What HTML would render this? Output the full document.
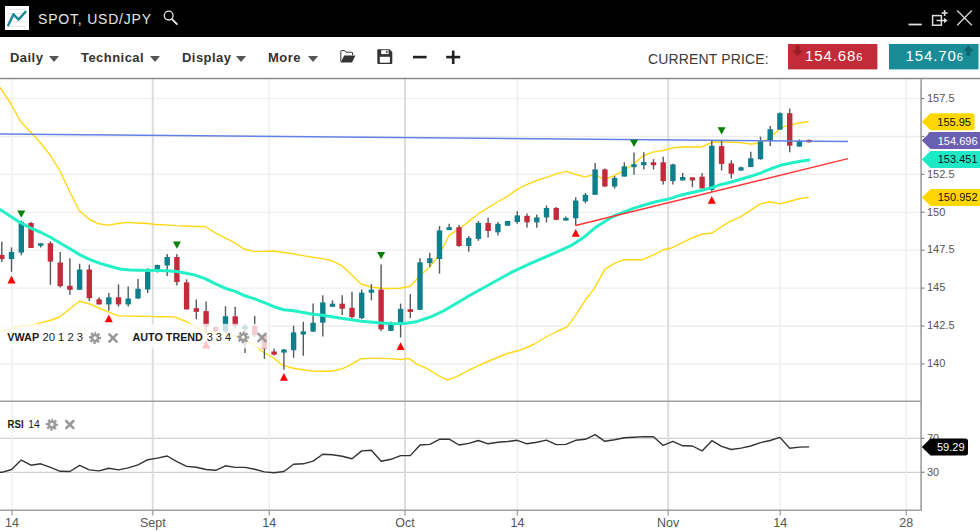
<!DOCTYPE html>
<html><head><meta charset="utf-8">
<style>
*{margin:0;padding:0;box-sizing:border-box}
html,body{width:980px;height:532px;overflow:hidden;background:#fff}
body{position:relative;font-family:"Liberation Sans",Arial,sans-serif}
#tb{position:absolute;left:0;top:0;width:980px;height:37px;background:#000}
.ttl{position:absolute;left:38px;top:11px;font-size:14px;line-height:16px;color:#e6e6e6;letter-spacing:0.8px;white-space:nowrap}
.mi{position:absolute;top:48.5px;font-size:13px;line-height:18px;font-weight:bold;color:#333;letter-spacing:0.45px;white-space:nowrap}
.ar{position:absolute;top:55.5px;width:0;height:0;border-left:5.5px solid transparent;border-right:5.5px solid transparent;border-top:6px solid #555}
.cp{position:absolute;left:648px;top:50px;font-size:14px;line-height:18px;color:#3a3a3a;letter-spacing:0.15px;white-space:nowrap}
.pb{position:absolute;top:42.5px;height:25px;color:#fff;font-size:15px;line-height:25px;letter-spacing:0.9px;white-space:nowrap}
.pb span{font-size:11px}
svg{position:absolute;left:0;top:0}
.yl{font-family:"Liberation Sans",Arial,sans-serif;font-size:11px;fill:#555}
.xl{font-family:"Liberation Sans",Arial,sans-serif;font-size:12.5px;fill:#555}
.tg{font-family:"Liberation Sans",Arial,sans-serif;font-size:11px}
.lg{font-family:"Liberation Sans",Arial,sans-serif;font-size:10.8px;fill:#1a1a1a}
</style></head><body>
<div id="tb">
  <svg width="980" height="37" style="position:absolute;left:0;top:0">
    <rect x="5" y="6" width="24" height="24" fill="#fff"/>
    <g stroke="#e2e2e2" stroke-width="0.9">
      <line x1="7.5" y1="9.4" x2="26" y2="9.4"/><line x1="7.5" y1="13.3" x2="26" y2="13.3"/>
      <line x1="7.5" y1="17.4" x2="26" y2="17.4"/><line x1="7.5" y1="21.8" x2="26" y2="21.8"/>
      <line x1="7.5" y1="26.3" x2="26" y2="26.3"/>
    </g>
    <polyline points="8.2,25.2 13.5,14.3 18.5,19.6 25.5,11.8" fill="none" stroke="#17879a" stroke-width="2.4" stroke-linecap="round" stroke-linejoin="round"/>
    <circle cx="168.7" cy="15.6" r="4.4" fill="none" stroke="#e6e6e6" stroke-width="1.3"/>
    <line x1="171.9" y1="19.2" x2="176.8" y2="24" stroke="#e6e6e6" stroke-width="1.8" stroke-linecap="round"/>
    <line x1="908.5" y1="24.5" x2="921.8" y2="24.5" stroke="#dedede" stroke-width="1.8"/>
    <rect x="932.6" y="15.6" width="8.8" height="9.6" fill="none" stroke="#dedede" stroke-width="1.5"/>
    <line x1="936.5" y1="20.5" x2="945" y2="20.5" stroke="#dedede" stroke-width="1.5"/>
    <polygon points="944,17.8 947.6,20.5 944,23.2" fill="#dedede"/>
    <line x1="944.6" y1="10" x2="944.6" y2="16" stroke="#dedede" stroke-width="1.6"/>
    <line x1="941.6" y1="13" x2="947.6" y2="13" stroke="#dedede" stroke-width="1.6"/>
    <line x1="957.2" y1="10.6" x2="971.8" y2="25.2" stroke="#d0d0d0" stroke-width="1.4"/>
    <line x1="971.8" y1="10.6" x2="957.2" y2="25.2" stroke="#d0d0d0" stroke-width="1.4"/>
  </svg>
  <div class="ttl">SPOT, USD/JPY</div>
</div>
<div class="mi" style="left:10px">Daily</div><div class="ar" style="left:49px"></div>
<div class="mi" style="left:81px">Technical</div><div class="ar" style="left:149.5px"></div>
<div class="mi" style="left:182px">Display</div><div class="ar" style="left:235.5px"></div>
<div class="mi" style="left:268px">More</div><div class="ar" style="left:307.5px"></div>
<svg width="980" height="80" style="position:absolute;left:0;top:0">
  <!-- folder -->
  <path d="M340.8,61.5 L340.8,51.5 Q340.8,50.6 341.7,50.6 L344.6,50.6 L346,52.2 L351.8,52.2 Q352.6,52.2 352.6,53 L352.6,55" fill="none" stroke="#333" stroke-width="1"/>
  <path d="M340.6,62.6 L344.2,55.4 L355.4,55.4 L352,62.6 Z" fill="#333"/>
  <!-- save -->
  <path d="M377.3,50.3 Q377.3,49.2 378.4,49.2 L389.6,49.2 L392.3,51.9 L392.3,63 Q392.3,64.1 391.2,64.1 L378.4,64.1 Q377.3,64.1 377.3,63 Z" fill="#333"/>
  <rect x="381.2" y="50.2" width="7.4" height="3.9" fill="#fff"/>
  <rect x="386.2" y="50.8" width="1.3" height="2.4" fill="#333"/>
  <rect x="379.8" y="56.8" width="10.1" height="5.9" fill="#fff"/>
  <!-- minus plus -->
  <rect x="413" y="55.8" width="13.6" height="2.6" fill="#222"/>
  <rect x="446.2" y="55.8" width="14" height="2.6" fill="#222"/>
  <rect x="451.9" y="50.6" width="2.6" height="13.4" fill="#222"/>
  <!-- price boxes -->
  <rect x="788" y="44" width="89.4" height="25.4" fill="#c42b39"/>
  <rect x="889" y="44" width="89.5" height="25.4" fill="#198c97"/>
  <path d="M795.6,45.6 h4 v5 h3.4 l-5.4,5.3 l-5.4,-5.3 h3.4 z" fill="#9a1a26"/>
  <path d="M968.4,45.5 l5.3,5.3 h-3.3 v5 h-4 v-5 h-3.3 z" fill="#0c666d"/>
</svg>
<div class="cp">CURRENT PRICE:</div>
<div class="pb" style="left:805px">154.68<span>6</span></div>
<div class="pb" style="left:905.5px">154.70<span>6</span></div>
<svg width="980" height="532">
<defs>
<g id="gear"><circle r="5.0" fill="none" stroke="#999" stroke-width="2.1" stroke-dasharray="2.3 1.627" stroke-dashoffset="1.15" transform="rotate(-90)"/><circle r="3.05" fill="none" stroke="#999" stroke-width="2.6"/></g>
<g id="xx" stroke="#999" stroke-width="2.6" stroke-linecap="round"><line x1="-3.6" y1="-3.6" x2="3.6" y2="3.6"/><line x1="-3.6" y1="3.6" x2="3.6" y2="-3.6"/></g>
</defs>
<line x1="0" y1="98.6" x2="921" y2="98.6" stroke="#eeeeee" stroke-width="1.3"/>
<line x1="0" y1="136.5" x2="921" y2="136.5" stroke="#eeeeee" stroke-width="1.3"/>
<line x1="0" y1="174.4" x2="921" y2="174.4" stroke="#eeeeee" stroke-width="1.3"/>
<line x1="0" y1="212.3" x2="921" y2="212.3" stroke="#eeeeee" stroke-width="1.3"/>
<line x1="0" y1="250.2" x2="921" y2="250.2" stroke="#eeeeee" stroke-width="1.3"/>
<line x1="0" y1="288.1" x2="921" y2="288.1" stroke="#eeeeee" stroke-width="1.3"/>
<line x1="0" y1="326.0" x2="921" y2="326.0" stroke="#eeeeee" stroke-width="1.3"/>
<line x1="0" y1="363.9" x2="921" y2="363.9" stroke="#eeeeee" stroke-width="1.3"/>
<line x1="0" y1="438.3" x2="921" y2="438.3" stroke="#cfcfcf" stroke-width="1.3"/>
<line x1="0" y1="472.3" x2="921" y2="472.3" stroke="#cfcfcf" stroke-width="1.3"/>
<line x1="12" y1="79" x2="12" y2="510" stroke="#efefef" stroke-width="1.5"/>
<line x1="152.8" y1="79" x2="152.8" y2="510" stroke="#dddddd" stroke-width="2"/>
<line x1="269.2" y1="79" x2="269.2" y2="510" stroke="#efefef" stroke-width="1.5"/>
<line x1="405" y1="79" x2="405" y2="510" stroke="#dddddd" stroke-width="2"/>
<line x1="517.4" y1="79" x2="517.4" y2="510" stroke="#efefef" stroke-width="1.5"/>
<line x1="668.2" y1="79" x2="668.2" y2="510" stroke="#dddddd" stroke-width="2"/>
<line x1="780.2" y1="79" x2="780.2" y2="510" stroke="#efefef" stroke-width="1.5"/>
<line x1="906.2" y1="79" x2="906.2" y2="510" stroke="#efefef" stroke-width="1.5"/>
<polyline points="0.0,87.2 11.0,104.0 20.6,121.5 30.5,132.0 40.2,142.5 50.0,155.0 59.7,170.5 69.4,191.0 79.1,210.5 88.9,219.0 98.6,223.8 108.0,225.1 118.0,223.5 127.5,222.4 137.5,223.0 147.0,223.5 156.0,224.5 166.0,224.9 176.0,225.6 185.0,226.0 195.0,226.5 205.0,226.5 215.0,232.7 225.0,237.8 235.0,242.9 244.0,249.0 254.0,251.6 263.5,251.4 273.0,251.0 283.0,252.3 293.0,253.8 302.9,255.6 312.6,257.2 322.4,258.6 332.0,260.8 341.8,265.6 351.5,274.8 361.0,284.0 371.0,287.0 380.7,288.3 390.5,288.5 400.2,288.2 410.3,286.2 420.0,275.7 429.8,266.8 439.5,254.3 449.2,235.3 459.0,228.8 468.7,221.6 478.0,214.0 487.8,207.8 497.5,202.0 507.3,196.3 517.6,189.2 527.8,184.1 538.0,180.0 548.2,176.9 556.3,173.9 566.5,171.4 575.7,174.5 584.9,176.9 595.1,174.5 604.3,179.6 613.5,175.9 623.7,170.8 633.9,163.7 642.4,156.2 652.7,152.1 662.9,150.5 673.1,147.7 683.3,147.0 692.1,147.0 701.6,147.0 711.8,142.3 722.0,141.9 731.0,142.2 740.4,142.6 750.6,144.0 760.8,143.0 771.0,136.8 781.2,127.7 791.4,124.6 799.5,123.0 808.8,121.5" fill="none" stroke="#ffd814" stroke-width="1.4" stroke-linejoin="round"/>
<polyline points="0.0,331.4 11.0,328.5 20.6,326.1 30.5,325.5 40.2,322.9 50.0,320.5 59.7,317.0 69.4,309.2 79.2,301.2 88.9,303.7 98.6,308.0 108.2,311.8 118.4,315.9 127.8,316.1 137.5,316.2 147.2,316.4 157.0,316.6 166.7,316.7 174.5,316.9 186.1,321.5 195.9,327.0 206.5,332.2 215.3,333.5 225.0,334.8 234.8,336.2 244.5,339.0 253.5,344.5 263.0,352.0 273.7,358.0 282.0,364.9 292.2,368.0 302.9,369.8 312.7,371.0 322.4,371.3 332.1,371.3 343.3,368.4 351.4,364.3 360.6,358.8 371.0,358.4 380.7,358.4 390.5,358.6 400.9,359.5 409.0,358.4 417.2,364.4 426.8,368.5 439.0,375.9 447.7,380.2 458.1,375.9 468.3,370.5 478.0,365.9 487.8,361.5 497.5,357.5 507.1,353.5 518.0,350.8 526.7,347.5 534.4,344.0 546.1,337.0 555.9,332.0 567.1,326.8 576.1,314.7 585.1,300.3 594.1,288.9 604.7,269.6 613.7,263.6 624.2,259.7 633.7,259.6 642.3,259.7 654.3,254.6 663.3,249.8 672.3,247.7 684.4,241.7 692.1,238.0 702.4,234.0 711.4,233.3 720.4,227.3 730.5,221.2 740.7,216.9 750.8,210.2 760.2,203.9 769.5,201.7 779.7,203.9 789.8,201.2 799.2,198.8 808.8,197.3" fill="none" stroke="#ffd814" stroke-width="1.4" stroke-linejoin="round"/>
<line x1="1.8" y1="241.8" x2="1.8" y2="262.0" stroke="#545a5f" stroke-width="1.4"/>
<rect x="-0.9" y="254.9" width="5.4" height="4.2" fill="#c32a3a"/>
<line x1="11.5" y1="247.4" x2="11.5" y2="271.8" stroke="#545a5f" stroke-width="1.4"/>
<rect x="8.8" y="251.9" width="5.4" height="7.2" fill="#0f7f8b"/>
<line x1="21.3" y1="220.8" x2="21.3" y2="255.3" stroke="#545a5f" stroke-width="1.4"/>
<rect x="18.6" y="221.9" width="5.4" height="30.7" fill="#0f7f8b"/>
<line x1="31.0" y1="221.9" x2="31.0" y2="248.0" stroke="#545a5f" stroke-width="1.4"/>
<rect x="28.3" y="223.0" width="5.4" height="25.0" fill="#c32a3a"/>
<line x1="40.7" y1="243.3" x2="40.7" y2="247.4" stroke="#545a5f" stroke-width="1.4"/>
<rect x="38.0" y="243.3" width="5.4" height="2.5" fill="#0f7f8b"/>
<line x1="50.4" y1="241.3" x2="50.4" y2="284.7" stroke="#545a5f" stroke-width="1.4"/>
<rect x="47.7" y="243.3" width="5.4" height="18.3" fill="#c32a3a"/>
<line x1="60.2" y1="251.9" x2="60.2" y2="287.6" stroke="#545a5f" stroke-width="1.4"/>
<rect x="57.5" y="262.5" width="5.4" height="23.7" fill="#c32a3a"/>
<line x1="69.9" y1="258.2" x2="69.9" y2="294.8" stroke="#545a5f" stroke-width="1.4"/>
<rect x="67.2" y="285.8" width="5.4" height="4.0" fill="#c32a3a"/>
<line x1="79.6" y1="263.7" x2="79.6" y2="289.8" stroke="#545a5f" stroke-width="1.4"/>
<rect x="76.9" y="269.5" width="5.4" height="20.3" fill="#0f7f8b"/>
<line x1="89.3" y1="264.8" x2="89.3" y2="301.1" stroke="#545a5f" stroke-width="1.4"/>
<rect x="86.6" y="269.5" width="5.4" height="28.7" fill="#c32a3a"/>
<line x1="99.1" y1="297.3" x2="99.1" y2="304.4" stroke="#545a5f" stroke-width="1.4"/>
<rect x="96.4" y="299.3" width="5.4" height="5.1" fill="#c32a3a"/>
<line x1="108.8" y1="293.0" x2="108.8" y2="310.8" stroke="#545a5f" stroke-width="1.4"/>
<rect x="106.1" y="297.3" width="5.4" height="7.1" fill="#0f7f8b"/>
<line x1="118.5" y1="284.4" x2="118.5" y2="306.6" stroke="#545a5f" stroke-width="1.4"/>
<rect x="115.8" y="297.3" width="5.4" height="7.1" fill="#c32a3a"/>
<line x1="128.2" y1="286.6" x2="128.2" y2="306.6" stroke="#545a5f" stroke-width="1.4"/>
<rect x="125.5" y="298.5" width="5.4" height="5.9" fill="#0f7f8b"/>
<line x1="138.0" y1="279.0" x2="138.0" y2="299.0" stroke="#545a5f" stroke-width="1.4"/>
<rect x="135.3" y="288.8" width="5.4" height="9.7" fill="#0f7f8b"/>
<line x1="147.7" y1="268.3" x2="147.7" y2="292.9" stroke="#545a5f" stroke-width="1.4"/>
<rect x="145.0" y="271.9" width="5.4" height="17.6" fill="#0f7f8b"/>
<line x1="157.4" y1="264.6" x2="157.4" y2="272.6" stroke="#545a5f" stroke-width="1.4"/>
<rect x="154.7" y="265.0" width="5.4" height="4.3" fill="#0f7f8b"/>
<line x1="167.2" y1="254.0" x2="167.2" y2="276.0" stroke="#545a5f" stroke-width="1.4"/>
<rect x="164.5" y="257.0" width="5.4" height="8.5" fill="#0f7f8b"/>
<line x1="176.9" y1="254.0" x2="176.9" y2="285.4" stroke="#545a5f" stroke-width="1.4"/>
<rect x="174.2" y="257.0" width="5.4" height="25.0" fill="#c32a3a"/>
<line x1="186.6" y1="279.3" x2="186.6" y2="309.4" stroke="#545a5f" stroke-width="1.4"/>
<rect x="183.9" y="282.4" width="5.4" height="27.0" fill="#c32a3a"/>
<line x1="196.3" y1="299.6" x2="196.3" y2="319.3" stroke="#545a5f" stroke-width="1.4"/>
<rect x="193.6" y="308.2" width="5.4" height="3.6" fill="#c32a3a"/>
<line x1="206.1" y1="301.6" x2="206.1" y2="331.8" stroke="#545a5f" stroke-width="1.4"/>
<rect x="203.4" y="311.1" width="5.4" height="15.5" fill="#c32a3a"/>
<line x1="215.8" y1="326.0" x2="215.8" y2="332.0" stroke="#545a5f" stroke-width="1.4"/>
<rect x="213.1" y="327.2" width="5.4" height="4.0" fill="#c32a3a"/>
<line x1="225.5" y1="306.2" x2="225.5" y2="333.0" stroke="#545a5f" stroke-width="1.4"/>
<rect x="222.8" y="316.3" width="5.4" height="14.9" fill="#0f7f8b"/>
<line x1="235.2" y1="306.8" x2="235.2" y2="328.6" stroke="#545a5f" stroke-width="1.4"/>
<rect x="232.5" y="316.3" width="5.4" height="9.7" fill="#c32a3a"/>
<line x1="245.0" y1="324.0" x2="245.0" y2="352.9" stroke="#545a5f" stroke-width="1.4"/>
<rect x="242.3" y="325.9" width="5.4" height="3.1" fill="#0f7f8b"/>
<line x1="254.7" y1="316.0" x2="254.7" y2="337.1" stroke="#545a5f" stroke-width="1.4"/>
<rect x="252.0" y="325.9" width="5.4" height="9.2" fill="#c32a3a"/>
<line x1="264.4" y1="333.2" x2="264.4" y2="358.8" stroke="#545a5f" stroke-width="1.4"/>
<rect x="261.7" y="335.1" width="5.4" height="13.8" fill="#c32a3a"/>
<line x1="274.1" y1="348.5" x2="274.1" y2="355.6" stroke="#545a5f" stroke-width="1.4"/>
<rect x="271.4" y="351.5" width="5.4" height="3.2" fill="#c32a3a"/>
<line x1="283.9" y1="349.1" x2="283.9" y2="369.8" stroke="#545a5f" stroke-width="1.4"/>
<rect x="281.2" y="349.5" width="5.4" height="3.1" fill="#0f7f8b"/>
<line x1="293.6" y1="325.8" x2="293.6" y2="357.8" stroke="#545a5f" stroke-width="1.4"/>
<rect x="290.9" y="332.4" width="5.4" height="17.8" fill="#0f7f8b"/>
<line x1="303.3" y1="321.7" x2="303.3" y2="355.7" stroke="#545a5f" stroke-width="1.4"/>
<rect x="300.6" y="331.4" width="5.4" height="3.1" fill="#0f7f8b"/>
<line x1="313.1" y1="303.5" x2="313.1" y2="332.0" stroke="#545a5f" stroke-width="1.4"/>
<rect x="310.4" y="322.7" width="5.4" height="8.9" fill="#0f7f8b"/>
<line x1="322.8" y1="295.2" x2="322.8" y2="336.5" stroke="#545a5f" stroke-width="1.4"/>
<rect x="320.1" y="302.4" width="5.4" height="20.3" fill="#0f7f8b"/>
<line x1="332.5" y1="300.4" x2="332.5" y2="306.8" stroke="#545a5f" stroke-width="1.4"/>
<rect x="329.8" y="303.7" width="5.4" height="3.1" fill="#0f7f8b"/>
<line x1="342.2" y1="295.2" x2="342.2" y2="315.0" stroke="#545a5f" stroke-width="1.4"/>
<rect x="339.5" y="303.7" width="5.4" height="5.1" fill="#c32a3a"/>
<line x1="352.0" y1="291.7" x2="352.0" y2="318.6" stroke="#545a5f" stroke-width="1.4"/>
<rect x="349.3" y="307.8" width="5.4" height="9.3" fill="#c32a3a"/>
<line x1="361.7" y1="289.6" x2="361.7" y2="319.0" stroke="#545a5f" stroke-width="1.4"/>
<rect x="359.0" y="292.7" width="5.4" height="25.4" fill="#0f7f8b"/>
<line x1="371.4" y1="284.0" x2="371.4" y2="300.3" stroke="#545a5f" stroke-width="1.4"/>
<rect x="368.7" y="289.6" width="5.4" height="3.1" fill="#0f7f8b"/>
<line x1="381.1" y1="264.4" x2="381.1" y2="330.9" stroke="#545a5f" stroke-width="1.4"/>
<rect x="378.4" y="289.6" width="5.4" height="39.7" fill="#c32a3a"/>
<line x1="390.9" y1="321.6" x2="390.9" y2="330.9" stroke="#545a5f" stroke-width="1.4"/>
<rect x="388.2" y="323.7" width="5.4" height="7.2" fill="#0f7f8b"/>
<line x1="400.6" y1="303.6" x2="400.6" y2="337.5" stroke="#545a5f" stroke-width="1.4"/>
<rect x="397.9" y="308.8" width="5.4" height="13.4" fill="#0f7f8b"/>
<line x1="410.3" y1="294.1" x2="410.3" y2="318.1" stroke="#545a5f" stroke-width="1.4"/>
<rect x="407.6" y="309.2" width="5.4" height="2.7" fill="#c32a3a"/>
<line x1="420.0" y1="258.2" x2="420.0" y2="309.8" stroke="#545a5f" stroke-width="1.4"/>
<rect x="417.3" y="262.3" width="5.4" height="47.5" fill="#0f7f8b"/>
<line x1="429.8" y1="252.8" x2="429.8" y2="266.9" stroke="#545a5f" stroke-width="1.4"/>
<rect x="427.1" y="258.2" width="5.4" height="4.9" fill="#0f7f8b"/>
<line x1="439.5" y1="226.1" x2="439.5" y2="273.6" stroke="#545a5f" stroke-width="1.4"/>
<rect x="436.8" y="230.4" width="5.4" height="28.6" fill="#0f7f8b"/>
<line x1="449.2" y1="223.8" x2="449.2" y2="230.0" stroke="#545a5f" stroke-width="1.4"/>
<rect x="446.5" y="227.2" width="5.4" height="2.8" fill="#0f7f8b"/>
<line x1="459.0" y1="224.8" x2="459.0" y2="246.8" stroke="#545a5f" stroke-width="1.4"/>
<rect x="456.3" y="227.2" width="5.4" height="18.8" fill="#c32a3a"/>
<line x1="468.7" y1="236.0" x2="468.7" y2="251.7" stroke="#545a5f" stroke-width="1.4"/>
<rect x="466.0" y="237.9" width="5.4" height="8.1" fill="#0f7f8b"/>
<line x1="478.4" y1="221.0" x2="478.4" y2="240.8" stroke="#545a5f" stroke-width="1.4"/>
<rect x="475.7" y="222.9" width="5.4" height="16.0" fill="#0f7f8b"/>
<line x1="488.1" y1="217.8" x2="488.1" y2="237.4" stroke="#545a5f" stroke-width="1.4"/>
<rect x="485.4" y="222.9" width="5.4" height="8.1" fill="#c32a3a"/>
<line x1="497.9" y1="222.0" x2="497.9" y2="235.5" stroke="#545a5f" stroke-width="1.4"/>
<rect x="495.2" y="223.8" width="5.4" height="8.5" fill="#0f7f8b"/>
<line x1="507.6" y1="221.0" x2="507.6" y2="225.7" stroke="#545a5f" stroke-width="1.4"/>
<rect x="504.9" y="221.0" width="5.4" height="4.7" fill="#0f7f8b"/>
<line x1="517.3" y1="211.2" x2="517.3" y2="223.8" stroke="#545a5f" stroke-width="1.4"/>
<rect x="514.6" y="215.4" width="5.4" height="6.6" fill="#0f7f8b"/>
<line x1="527.0" y1="213.5" x2="527.0" y2="227.6" stroke="#545a5f" stroke-width="1.4"/>
<rect x="524.3" y="215.8" width="5.4" height="6.5" fill="#c32a3a"/>
<line x1="536.8" y1="214.5" x2="536.8" y2="227.7" stroke="#545a5f" stroke-width="1.4"/>
<rect x="534.1" y="217.4" width="5.4" height="5.0" fill="#0f7f8b"/>
<line x1="546.5" y1="205.5" x2="546.5" y2="222.4" stroke="#545a5f" stroke-width="1.4"/>
<rect x="543.8" y="208.0" width="5.4" height="9.4" fill="#0f7f8b"/>
<line x1="556.2" y1="207.0" x2="556.2" y2="220.2" stroke="#545a5f" stroke-width="1.4"/>
<rect x="553.5" y="208.0" width="5.4" height="11.8" fill="#c32a3a"/>
<line x1="565.9" y1="216.4" x2="565.9" y2="220.6" stroke="#545a5f" stroke-width="1.4"/>
<rect x="563.2" y="217.9" width="5.4" height="2.7" fill="#0f7f8b"/>
<line x1="575.7" y1="197.3" x2="575.7" y2="225.5" stroke="#545a5f" stroke-width="1.4"/>
<rect x="573.0" y="200.5" width="5.4" height="17.8" fill="#0f7f8b"/>
<line x1="585.4" y1="193.0" x2="585.4" y2="203.3" stroke="#545a5f" stroke-width="1.4"/>
<rect x="582.7" y="194.8" width="5.4" height="6.6" fill="#0f7f8b"/>
<line x1="595.1" y1="162.9" x2="595.1" y2="194.8" stroke="#545a5f" stroke-width="1.4"/>
<rect x="592.4" y="169.4" width="5.4" height="25.4" fill="#0f7f8b"/>
<line x1="604.9" y1="168.5" x2="604.9" y2="187.3" stroke="#545a5f" stroke-width="1.4"/>
<rect x="602.2" y="169.4" width="5.4" height="17.0" fill="#c32a3a"/>
<line x1="614.6" y1="176.0" x2="614.6" y2="188.6" stroke="#545a5f" stroke-width="1.4"/>
<rect x="611.9" y="177.9" width="5.4" height="8.6" fill="#0f7f8b"/>
<line x1="624.3" y1="162.3" x2="624.3" y2="176.6" stroke="#545a5f" stroke-width="1.4"/>
<rect x="621.6" y="166.3" width="5.4" height="10.3" fill="#0f7f8b"/>
<line x1="634.0" y1="152.6" x2="634.0" y2="174.7" stroke="#545a5f" stroke-width="1.4"/>
<rect x="631.3" y="164.2" width="5.4" height="3.0" fill="#0f7f8b"/>
<line x1="643.8" y1="152.2" x2="643.8" y2="169.5" stroke="#545a5f" stroke-width="1.4"/>
<rect x="641.1" y="162.0" width="5.4" height="3.2" fill="#0f7f8b"/>
<line x1="653.5" y1="159.1" x2="653.5" y2="169.5" stroke="#545a5f" stroke-width="1.4"/>
<rect x="650.8" y="162.3" width="5.4" height="2.9" fill="#c32a3a"/>
<line x1="663.2" y1="156.7" x2="663.2" y2="184.5" stroke="#545a5f" stroke-width="1.4"/>
<rect x="660.5" y="162.3" width="5.4" height="18.8" fill="#c32a3a"/>
<line x1="672.9" y1="163.8" x2="672.9" y2="184.5" stroke="#545a5f" stroke-width="1.4"/>
<rect x="670.2" y="164.4" width="5.4" height="16.7" fill="#0f7f8b"/>
<line x1="682.7" y1="172.9" x2="682.7" y2="180.4" stroke="#545a5f" stroke-width="1.4"/>
<rect x="680.0" y="177.0" width="5.4" height="3.4" fill="#0f7f8b"/>
<line x1="692.4" y1="177.0" x2="692.4" y2="187.3" stroke="#545a5f" stroke-width="1.4"/>
<rect x="689.7" y="177.4" width="5.4" height="3.0" fill="#c32a3a"/>
<line x1="702.1" y1="172.9" x2="702.1" y2="188.4" stroke="#545a5f" stroke-width="1.4"/>
<rect x="699.4" y="176.7" width="5.4" height="11.7" fill="#c32a3a"/>
<line x1="711.8" y1="140.4" x2="711.8" y2="191.8" stroke="#545a5f" stroke-width="1.4"/>
<rect x="709.1" y="145.7" width="5.4" height="44.2" fill="#0f7f8b"/>
<line x1="721.6" y1="139.9" x2="721.6" y2="170.5" stroke="#545a5f" stroke-width="1.4"/>
<rect x="718.9" y="146.1" width="5.4" height="17.8" fill="#c32a3a"/>
<line x1="731.3" y1="160.2" x2="731.3" y2="178.6" stroke="#545a5f" stroke-width="1.4"/>
<rect x="728.6" y="163.4" width="5.4" height="10.3" fill="#c32a3a"/>
<line x1="741.0" y1="166.5" x2="741.0" y2="171.0" stroke="#545a5f" stroke-width="1.4"/>
<rect x="738.3" y="167.3" width="5.4" height="3.2" fill="#0f7f8b"/>
<line x1="750.8" y1="151.7" x2="750.8" y2="167.3" stroke="#545a5f" stroke-width="1.4"/>
<rect x="748.1" y="158.3" width="5.4" height="8.7" fill="#0f7f8b"/>
<line x1="760.5" y1="136.7" x2="760.5" y2="159.8" stroke="#545a5f" stroke-width="1.4"/>
<rect x="757.8" y="141.4" width="5.4" height="17.8" fill="#0f7f8b"/>
<line x1="770.2" y1="126.0" x2="770.2" y2="146.1" stroke="#545a5f" stroke-width="1.4"/>
<rect x="767.5" y="129.2" width="5.4" height="11.8" fill="#0f7f8b"/>
<line x1="779.9" y1="112.2" x2="779.9" y2="129.7" stroke="#545a5f" stroke-width="1.4"/>
<rect x="777.2" y="113.2" width="5.4" height="16.5" fill="#0f7f8b"/>
<line x1="789.7" y1="108.5" x2="789.7" y2="152.3" stroke="#545a5f" stroke-width="1.4"/>
<rect x="787.0" y="113.2" width="5.4" height="32.5" fill="#c32a3a"/>
<line x1="799.4" y1="139.5" x2="799.4" y2="146.6" stroke="#545a5f" stroke-width="1.4"/>
<rect x="796.7" y="141.0" width="5.4" height="5.6" fill="#0f7f8b"/>
<line x1="809.1" y1="139.5" x2="809.1" y2="142.5" stroke="#545a5f" stroke-width="1.4"/>
<rect x="806.4" y="139.9" width="5.4" height="2.4" fill="#c32a3a"/>
<polyline points="0.0,209.4 10.0,216.0 20.0,222.4 30.0,227.8 40.0,232.0 50.0,237.0 60.0,243.0 70.0,248.8 80.0,254.9 90.0,259.6 100.0,263.4 110.0,266.2 120.0,269.0 130.0,270.0 140.0,270.2 160.0,270.5 175.0,271.3 185.0,273.0 195.0,275.1 205.0,278.6 215.0,283.7 225.0,288.2 235.2,291.4 244.9,295.8 254.7,298.9 264.4,302.6 274.1,306.7 283.8,309.7 293.5,310.8 303.3,312.5 313.0,314.2 322.7,315.2 341.2,318.3 361.6,321.2 382.0,323.1 394.3,323.7 406.5,323.2 417.2,321.4 430.8,316.8 443.3,311.0 459.6,301.5 470.0,295.3 490.4,284.0 510.8,272.7 531.2,263.1 551.6,254.3 572.0,245.1 584.3,236.9 596.5,226.7 612.9,216.5 633.3,208.4 653.7,202.2 670.0,198.6 681.2,195.0 700.0,190.7 711.9,187.6 720.3,184.7 730.5,182.2 740.7,179.2 750.8,176.3 761.0,172.9 771.2,168.6 780.5,165.3 789.8,163.2 799.2,161.5 808.8,159.9" fill="none" stroke="#22f0c6" stroke-width="3" stroke-linejoin="round" stroke-linecap="round"/>
<line x1="0" y1="134" x2="848" y2="141.5" stroke="#6380e6" stroke-width="1.3"/>
<line x1="575.5" y1="225.5" x2="848" y2="158.6" stroke="#ff3535" stroke-width="1.4"/>
<polygon points="17.3,210.5 25.3,210.5 21.3,217.8" fill="#078007"/>
<polygon points="172.9,241.4 180.9,241.4 176.9,248.70000000000002" fill="#078007"/>
<polygon points="377.1,251.9 385.1,251.9 381.1,259.2" fill="#078007"/>
<polygon points="630.0,139.8 638.0,139.8 634.0,147.10000000000002" fill="#078007"/>
<polygon points="717.6,127.3 725.6,127.3 721.6,134.6" fill="#078007"/>
<polygon points="11.5,275.6 15.5,283.40000000000003 7.5,283.40000000000003" fill="#ff0000"/>
<polygon points="108.8,314.5 112.8,322.3 104.8,322.3" fill="#ff0000"/>
<polygon points="206.1,340.5 210.1,348.3 202.1,348.3" fill="#ff0000"/>
<polygon points="283.9,372.9 287.9,380.7 279.9,380.7" fill="#ff0000"/>
<polygon points="400.6,342.3 404.6,350.1 396.6,350.1" fill="#ff0000"/>
<polygon points="575.7,229 579.7,236.8 571.7,236.8" fill="#ff0000"/>
<polygon points="711.8,195.9 715.8,203.70000000000002 707.8,203.70000000000002" fill="#ff0000"/>
<rect x="0" y="323.8" width="268" height="24.8" fill="#fff" fill-opacity="0.76"/>
<polyline points="0.0,472.3 1.8,472.3 11.5,469.5 21.3,460.1 31.0,465.2 40.7,463.8 50.4,467.4 60.2,471.3 69.9,471.5 79.6,465.4 89.3,469.9 99.1,470.9 108.8,468.3 118.5,469.9 128.2,467.9 138.0,464.8 147.7,459.7 157.4,458.1 167.2,456.0 176.9,461.7 186.6,466.4 196.3,467.2 206.1,469.5 215.8,470.3 225.5,465.8 235.2,467.4 245.0,467.4 254.7,469.3 264.4,471.9 274.1,472.8 283.9,471.5 293.6,464.2 303.3,463.8 313.1,461.1 322.8,454.2 332.5,454.8 342.2,456.2 352.0,458.7 361.7,450.9 371.4,450.3 381.1,461.3 390.9,459.3 400.6,455.6 410.3,455.6 420.0,445.0 429.8,444.4 439.5,439.3 449.2,439.1 459.0,445.0 468.7,443.4 478.4,440.5 488.1,443.8 497.9,442.3 507.6,441.5 517.3,440.3 527.0,443.8 536.8,442.3 546.5,440.1 556.2,444.6 565.9,444.4 575.7,440.3 585.4,439.3 595.1,434.6 604.9,441.3 614.6,439.7 624.3,437.7 634.0,437.2 643.8,436.6 653.5,436.8 663.2,445.4 672.9,441.3 682.7,445.8 692.4,446.0 702.1,450.9 711.8,440.7 721.6,446.4 731.3,449.5 741.0,448.1 750.8,446.0 760.5,442.6 770.2,440.5 779.9,437.4 789.7,448.2 799.4,447.1 809.1,446.9" fill="none" stroke="#333" stroke-width="1.4" stroke-linejoin="round"/>
<line x1="0" y1="78.5" x2="980" y2="78.5" stroke="#8a8a8a" stroke-width="1.3"/>
<line x1="0" y1="401.2" x2="921" y2="401.2" stroke="#a0a0a0" stroke-width="1.4"/>
<line x1="0" y1="510.2" x2="921" y2="510.2" stroke="#a0a0a0" stroke-width="1.6"/>
<line x1="921.1" y1="79" x2="921.1" y2="511" stroke="#a8a8a8" stroke-width="1.8"/>
<line x1="921" y1="98.6" x2="924.5" y2="98.6" stroke="#888" stroke-width="1.2"/>
<text x="927" y="101.8" class="yl">157.5</text>
<line x1="921" y1="136.5" x2="924.5" y2="136.5" stroke="#888" stroke-width="1.2"/>
<text x="927" y="139.7" class="yl">155</text>
<line x1="921" y1="174.4" x2="924.5" y2="174.4" stroke="#888" stroke-width="1.2"/>
<text x="927" y="177.6" class="yl">152.5</text>
<line x1="921" y1="212.3" x2="924.5" y2="212.3" stroke="#888" stroke-width="1.2"/>
<text x="927" y="215.5" class="yl">150</text>
<line x1="921" y1="250.2" x2="924.5" y2="250.2" stroke="#888" stroke-width="1.2"/>
<text x="927" y="253.4" class="yl">147.5</text>
<line x1="921" y1="288.1" x2="924.5" y2="288.1" stroke="#888" stroke-width="1.2"/>
<text x="927" y="291.3" class="yl">145</text>
<line x1="921" y1="326.0" x2="924.5" y2="326.0" stroke="#888" stroke-width="1.2"/>
<text x="927" y="329.2" class="yl">142.5</text>
<line x1="921" y1="363.9" x2="924.5" y2="363.9" stroke="#888" stroke-width="1.2"/>
<text x="927" y="367.1" class="yl">140</text>
<line x1="921" y1="438.3" x2="924.5" y2="438.3" stroke="#888" stroke-width="1.2"/>
<text x="927" y="441.5" class="yl">70</text>
<line x1="921" y1="472.3" x2="924.5" y2="472.3" stroke="#888" stroke-width="1.2"/>
<text x="927" y="475.5" class="yl">30</text>
<line x1="12" y1="510" x2="12" y2="515.5" stroke="#999" stroke-width="1.2"/>
<text x="12" y="527" class="xl" text-anchor="middle">14</text>
<line x1="152.8" y1="510" x2="152.8" y2="515.5" stroke="#999" stroke-width="1.2"/>
<text x="152.8" y="527" class="xl" text-anchor="middle">Sept</text>
<line x1="269.2" y1="510" x2="269.2" y2="515.5" stroke="#999" stroke-width="1.2"/>
<text x="269.2" y="527" class="xl" text-anchor="middle">14</text>
<line x1="405" y1="510" x2="405" y2="515.5" stroke="#999" stroke-width="1.2"/>
<text x="405" y="527" class="xl" text-anchor="middle">Oct</text>
<line x1="517.4" y1="510" x2="517.4" y2="515.5" stroke="#999" stroke-width="1.2"/>
<text x="517.4" y="527" class="xl" text-anchor="middle">14</text>
<line x1="668.2" y1="510" x2="668.2" y2="515.5" stroke="#999" stroke-width="1.2"/>
<text x="668.2" y="527" class="xl" text-anchor="middle">Nov</text>
<line x1="780.2" y1="510" x2="780.2" y2="515.5" stroke="#999" stroke-width="1.2"/>
<text x="780.2" y="527" class="xl" text-anchor="middle">14</text>
<line x1="906.2" y1="510" x2="906.2" y2="515.5" stroke="#999" stroke-width="1.2"/>
<text x="906.2" y="527" class="xl" text-anchor="middle">28</text>
<path d="M921.8,121.8 L930.5,113.3 L972.0,113.3 Q974.5,113.3 974.5,115.8 L974.5,127.8 Q974.5,130.3 972.0,130.3 L930.5,130.3 Z" fill="#ffd700"/><text x="971.0" y="125.8" class="tg" text-anchor="end" fill="#111">155.95</text>
<path d="M921.8,140.6 L930.5,132.1 L980.5,132.1 Q983.0,132.1 983.0,134.6 L983.0,146.6 Q983.0,149.1 980.5,149.1 L930.5,149.1 Z" fill="#6a5fb0"/><text x="977.5" y="144.6" class="tg" text-anchor="end" fill="#fff">154.696</text>
<path d="M921.8,159.4 L930.5,150.9 L980.5,150.9 Q983.0,150.9 983.0,153.4 L983.0,165.4 Q983.0,167.9 980.5,167.9 L930.5,167.9 Z" fill="#1de9c6"/><text x="977.5" y="163.4" class="tg" text-anchor="end" fill="#111">153.451</text>
<path d="M921.8,197.4 L930.5,188.9 L980.5,188.9 Q983.0,188.9 983.0,191.4 L983.0,203.4 Q983.0,205.9 980.5,205.9 L930.5,205.9 Z" fill="#ffd700"/><text x="977.5" y="201.4" class="tg" text-anchor="end" fill="#111">150.952</text>
<path d="M921.8,447.0 L930.5,438.5 L965.5,438.5 Q968.0,438.5 968.0,441.0 L968.0,453.0 Q968.0,455.5 965.5,455.5 L930.5,455.5 Z" fill="#000"/><text x="964.5" y="451.0" class="tg" text-anchor="end" fill="#fff">59.29</text>
<text x="7.3" y="340.6" class="lg" font-weight="bold" textLength="31.8" lengthAdjust="spacingAndGlyphs">VWAP</text>
<text x="42.5" y="340.6" class="lg" textLength="40.6" lengthAdjust="spacingAndGlyphs">20 1 2 3</text>
<text x="132.5" y="340.6" class="lg" font-weight="bold" textLength="70.4" lengthAdjust="spacingAndGlyphs">AUTO TREND</text>
<text x="206.7" y="340.6" class="lg" textLength="24.4" lengthAdjust="spacingAndGlyphs">3 3 4</text>
<text x="7.6" y="427.6" class="lg" font-weight="bold" textLength="16" lengthAdjust="spacingAndGlyphs">RSI</text>
<text x="28.3" y="427.6" class="lg" textLength="11.6" lengthAdjust="spacingAndGlyphs">14</text>
<use href="#gear" x="95" y="337.9"/><use href="#xx" x="113" y="338"/>
<use href="#gear" x="243.2" y="337.3"/><use href="#xx" x="262" y="337.5"/>
<use href="#gear" x="51.9" y="424.6"/><use href="#xx" x="69.8" y="424.6"/>
</svg>
</body></html>
